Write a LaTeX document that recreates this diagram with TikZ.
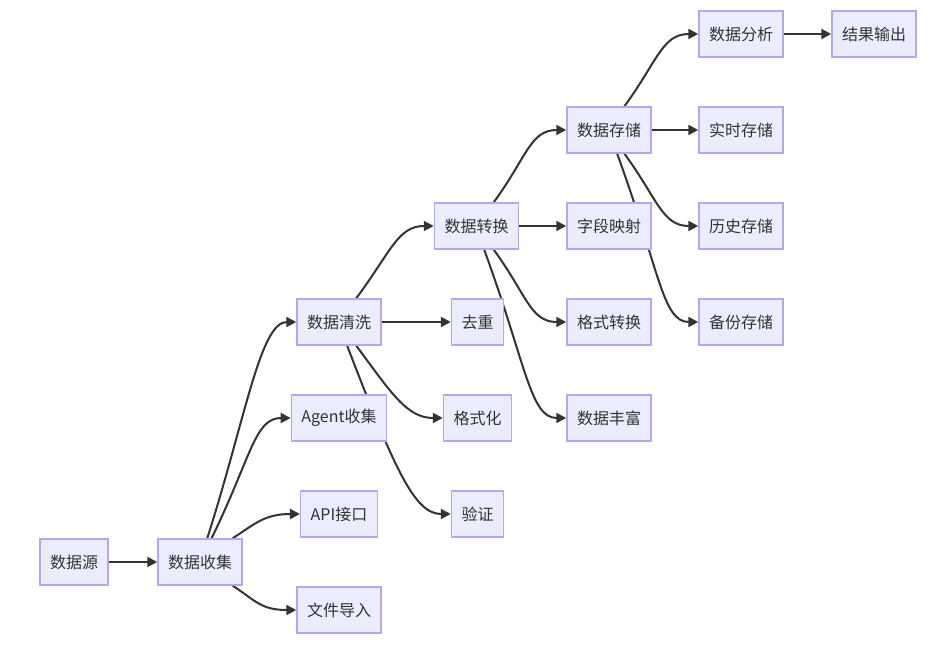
\documentclass[tikz,border=0pt]{standalone}
\usepackage{fontspec}
\newfontfamily\cjk{Noto Sans CJK SC}
\usepackage{tikz}
\usetikzlibrary{arrows.meta, backgrounds}
\definecolor{nodefill}{HTML}{ECECFF}
\definecolor{nodeline}{HTML}{B9A5EC}
\definecolor{inkgray}{HTML}{333333}

\begin{document}
\begin{tikzpicture}[x=1pt, y=-1pt,
    box/.style={draw=nodeline, fill=nodefill, line width=1.5pt, text=inkgray,
      minimum height=46pt, inner xsep=10pt, font=\cjk\fontsize{16}{18}\selectfont},
    flow/.style={draw=inkgray, line width=2pt, -{Triangle[length=10pt, width=10pt]}}]
    \useasboundingbox (0,0) rectangle (950,652);
    \foreach \nm/\x/\y/\lbl in {
      yuan/74/562/{数据源}, shouji/200/562/{数据收集},
      qingxi/339/322/{数据清洗}, agent/339/418/{Agent收集},
      api/339/514/{API接口}, wenjian/339/610/{文件导入},
      quzhong/477.5/322/{去重}, geshihua/477.5/418/{格式化},
      yanzheng/477.5/514/{验证}, zhuanhuan/476.5/226/{数据转换},
      cunchu/609/130/{数据存储}, ziduan/609/226/{字段映射},
      geshizh/609/322/{格式转换}, fengfu/609/418/{数据丰富},
      fenxi/741/34/{数据分析}, shishi/741/130/{实时存储},
      lishi/741/226/{历史存储}, beifen/741/322/{备份存储},
      jieguo/874/34/{结果输出}%
    }{
      \node[box] (\nm) at (\x,\y) {\lbl};
    }
    \begin{scope}[on background layer]
      \foreach \a/\b in {yuan/shouji, qingxi/quzhong, zhuanhuan/ziduan,
        cunchu/shishi, fenxi/jieguo}{
        \draw[flow] (\a.east) -- (\b.west);
      }
      \foreach \a/\ang/\dx/\dy/\b in {
        shouji/73/38/-119/qingxi, shouji/64/40/-82/agent,
        shouji/36/22/-14/api, shouji/324/22/14/wenjian,
        qingxi/54/35/-47/zhuanhuan, qingxi/306/35/47/geshihua,
        qingxi/289/48/125/yanzheng,
        zhuanhuan/54/33/-45/cunchu, zhuanhuan/306/33/45/geshizh,
        zhuanhuan/288/42/115/fengfu,
        cunchu/57/33/-45/fenxi, cunchu/303/33/45/lishi,
        cunchu/289/42/115/beifen%
      }{
        \draw[flow] (\a.\ang) .. controls +(\dx,\dy) and +(-36,0) .. (\b.west);
      }
    \end{scope}
  \end{tikzpicture}
\end{document}
